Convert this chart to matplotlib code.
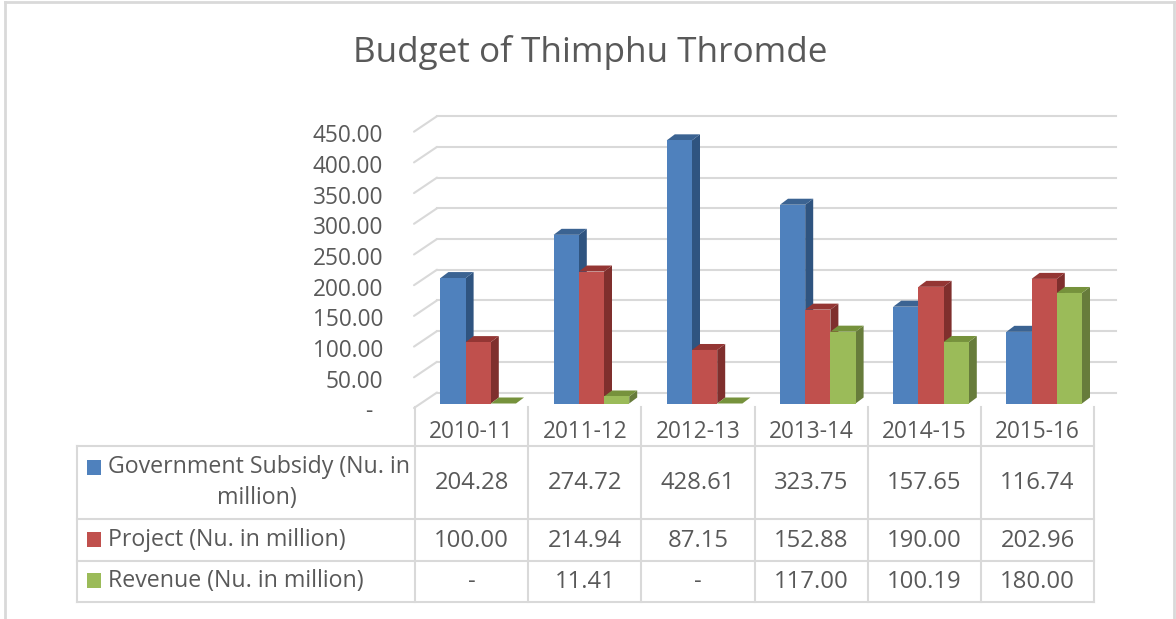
import matplotlib
matplotlib.use("Agg")
import matplotlib.pyplot as plt
from matplotlib.patches import Polygon, Rectangle
from matplotlib.transforms import ScaledTranslation

categories = ["2010-11", "2011-12", "2012-13", "2013-14", "2014-15", "2015-16"]
subsidy = [204.28, 274.72, 428.61, 323.75, 157.65, 116.74]
project = [100.00, 214.94, 87.15, 152.88, 190.00, 202.96]
revenue = [0, 11.41, 0, 117.00, 100.19, 180.00]
yticks = [0, 50, 100, 150, 200, 250, 300, 350, 400, 450]
series_values = [subsidy, project, revenue]
title = "Budget of Thimphu Thromde"

W, H = 1176, 619
plt.rcParams["font.family"] = ["Open Sans", "DejaVu Sans"]
TXT = "#595959"
GRID = "#d9d9d9"
TS = 16.3
VS = 17.2
LS = 16.7
fig = plt.figure(figsize=(W / 100, H / 100), dpi=100, facecolor="white")

# pixel overlay for the frame and the data table
ov = fig.add_axes([0, 0, 1, 1], zorder=0)
ov.set_xlim(0, W); ov.set_ylim(H, 0); ov.axis("off")

# plot axes: one category = 113.2 px, 450 units = 276.3 px
L, R, B, T = 415.0, 1094.2, 403.5, 127.2
ax = fig.add_axes([L / W, 1 - B / H, (R - L) / W, (B - T) / H], zorder=1)
ax.set_xlim(0, 6); ax.set_ylim(0, 450)
ax.patch.set_alpha(0)
for s in ax.spines.values():
    s.set_visible(False)
ax.set_xticks([])
ax.set_yticks(yticks)
ax.set_yticklabels([f"{v:.2f}" if v else "-" for v in yticks], color=TXT, fontsize=TS)
ax.tick_params(axis="y", length=0, pad=23)
for v, lab in zip(yticks, ax.get_yticklabels()):
    shift_x = 0 if v else -11 / 100
    lab.set_transform(lab.get_transform() + ScaledTranslation(shift_x, -6 / 100, fig.dpi_scale_trans))

px = 6 / (R - L)
py = 450 / (B - T)

# walls: gridlines with their receding left edge
for v in yticks:
    yb = v + 11 * py
    yf = v - 4.5 * py
    x0, x1 = -1 * px, 22 * px
    ax.plot([x0, x1], [yf, yb], color=GRID, lw=1.5, clip_on=False, zorder=1, solid_capstyle="round")
    ax.plot([x1, (1116 - L) * px], [yb, yb], color=GRID, lw=1.5, clip_on=False, zorder=1)
ax.set_xlim(0, 6); ax.set_ylim(0, 450)

front = ["#4f81bd", "#c0504d", "#9bbb59"]
side = ["#2f5480", "#7f2f2d", "#677c3b"]
top = ["#3b6392", "#943634", "#76923c"]
bw = 25.2 * px
dx, dy = 8 * px, 6 * py
z = 2
for c in range(len(categories)):
    for k, vals in enumerate(series_values):
        x = c + (25.4 + 25.2 * k) * px
        v = vals[c]
        ax.add_patch(Polygon([(x + bw, 0), (x + bw + dx, dy), (x + bw + dx, v + dy), (x + bw, v)],
                             fc=side[k], ec="none", clip_on=False, zorder=z))
        ax.add_patch(Polygon([(x, v), (x + dx, v + dy), (x + bw + dx, v + dy), (x + bw, v)],
                             fc=top[k], ec="none", clip_on=False, zorder=z))
        ax.bar(x, v, width=bw, align="edge", color=front[k], zorder=z, clip_on=False)
        z += 1

# title
ov.text(590, 52, title, ha="center", va="center", fontsize=25.3, color=TXT)

# outer frame
ov.plot([4.5, 4.5], [H, 2], color=GRID, lw=2)
ov.plot([4.5, 1174], [2, 2], color=GRID, lw=2)
ov.plot([1174, 1174], [2, H], color=GRID, lw=2)

# data table
xs = [L + (R - L) / 6 * i for i in range(7)]
rows_y = [446, 519, 561, 602]
for y in rows_y:
    ov.plot([77, R], [y, y], color=GRID, lw=1.5)
ov.plot([77, 77], [446, 602], color=GRID, lw=1.5)
for x in xs:
    ov.plot([x, x], [407, 602], color=GRID, lw=1.5)
for i, cat in enumerate(categories):
    cx = (xs[i] + xs[i + 1]) / 2
    ov.text(cx, 432, cat, ha="center", va="center", fontsize=TS, color=TXT)
    for vals, cy in zip(series_values, [483, 541, 582]):
        s = f"{vals[i]:.2f}" if vals[i] else "-"
        ov.text(cx, cy, s, ha="center", va="center", fontsize=VS, color=TXT)

ov.text(108, 467, "Government Subsidy (Nu. in", ha="left", va="center", fontsize=LS, color=TXT)
ov.text(257, 498, "million)", ha="center", va="center", fontsize=LS, color=TXT)
ov.text(108, 540, "Project (Nu. in million)", ha="left", va="center", fontsize=LS, color=TXT)
ov.text(108, 581, "Revenue (Nu. in million)", ha="left", va="center", fontsize=LS, color=TXT)
for col, y in zip(front, [460, 532, 573]):
    ov.add_patch(Rectangle((87, y), 14, 14.5, fc=col, ec="none"))

fig.savefig("out.png", dpi=100, facecolor="white")
